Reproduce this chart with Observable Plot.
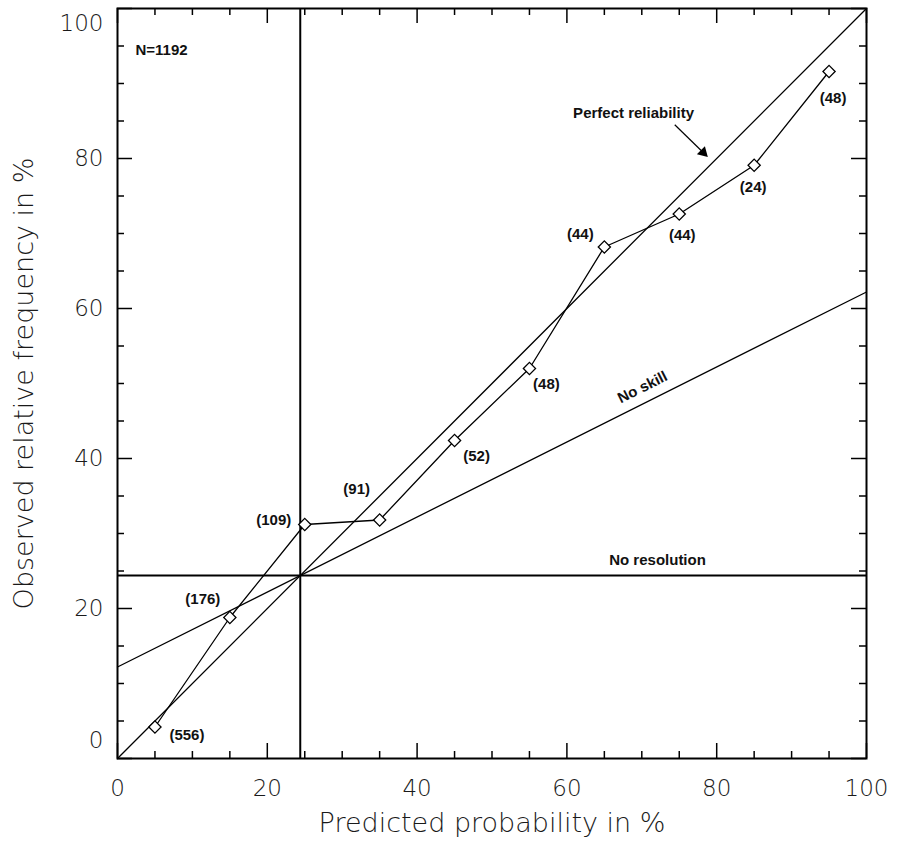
<!DOCTYPE html>
<html>
<head>
<meta charset="utf-8">
<script src="https://cdn.jsdelivr.net/npm/d3@7"></script>
<script src="https://cdn.jsdelivr.net/npm/@observablehq/plot@0.6"></script>
<style>
  html, body { margin: 0; padding: 0; background: #fff; }
</style>
</head>
<body>
<div id="chart"></div>
<script>
// ---- data ----
const forecastProb = [5, 15, 25, 35, 45, 55, 65, 75, 85, 95];
const observedFreq = [4.2, 18.8, 31.2, 31.8, 42.4, 52.0, 68.2, 72.6, 79.1, 91.6];
const binCounts = [556, 176, 109, 91, 52, 48, 44, 44, 24, 48];
const climatology = 24.4;
const totalN = 1192;
const majorTicks = [0, 20, 40, 60, 80, 100];
const minorTicks = [5, 10, 15, 25, 30, 35, 45, 50, 55, 65, 70, 75, 85, 90, 95];
const xAxisLabel = "Predicted probability in %";
const yAxisLabel = "Observed relative frequency in %";

// ---- label placement (pixel offsets, style) ----
const labelDx = [32, -27, -31, -23, 22, 17, -24, 3, -1, 4];
const labelDy = [8, -18, -4, -31, 16, 16, -13, 21, 22, 27];

const points = forecastProb.map((x, i) => ({
  x, y: observedFreq[i], n: binCounts[i], dx: labelDx[i], dy: labelDy[i]
}));

const W = 897, H = 841;
const mL = 117, mR = 31, mT = 8, mB = 83;
const pW = W - mL - mR, pH = H - mT - mB;

const tickFont = "DejaVu Sans, sans-serif";
const annFont = "Liberation Sans, Arial, sans-serif";
const axisStyle = {tickSize: 0, fontSize: 23, fontFamily: tickFont, fontWeight: 300, fill: "#1a1a1a", label: null};
const titleStyle = {fontSize: 27, fontFamily: tickFont, fontWeight: 300, fill: "#1a1a1a", textAnchor: "middle", lineAnchor: "middle"};

const refX = [0, 100];

const chart = Plot.plot({
  width: W, height: H,
  marginLeft: mL, marginRight: mR, marginTop: mT, marginBottom: mB,
  x: {domain: [0, 100]},
  y: {domain: [0, 100]},
  style: {background: "#fff", overflow: "visible"},
  marks: [
    // inward ticks, all four sides
    Plot.tickX(minorTicks, {x: d => d, insetTop: pH - 7, stroke: "#000", strokeWidth: 1.5}),
    Plot.tickX(majorTicks, {x: d => d, insetTop: pH - 15, stroke: "#000", strokeWidth: 1.5}),
    Plot.tickX(minorTicks, {x: d => d, insetBottom: pH - 7, stroke: "#000", strokeWidth: 1.5}),
    Plot.tickX(majorTicks, {x: d => d, insetBottom: pH - 15, stroke: "#000", strokeWidth: 1.5}),
    Plot.tickY(minorTicks, {y: d => d, insetRight: pW - 7, stroke: "#000", strokeWidth: 1.5}),
    Plot.tickY(majorTicks, {y: d => d, insetRight: pW - 15, stroke: "#000", strokeWidth: 1.5}),
    Plot.tickY(minorTicks, {y: d => d, insetLeft: pW - 7, stroke: "#000", strokeWidth: 1.5}),
    Plot.tickY(majorTicks, {y: d => d, insetLeft: pW - 15, stroke: "#000", strokeWidth: 1.5}),

    // axes tick labels
    Plot.axisX(majorTicks, {...axisStyle, tickPadding: 21}),
    Plot.axisY(majorTicks.filter(d => d > 0 && d < 100), {...axisStyle, tickPadding: 14}),
    Plot.axisY([0], {...axisStyle, tickPadding: 14, dy: -18}),
    Plot.axisY([100], {...axisStyle, tickPadding: 14, dy: 15}),

    // axis titles
    Plot.text([xAxisLabel], {...titleStyle, frameAnchor: "bottom", dy: 65, text: d => d}),
    Plot.text([yAxisLabel], {...titleStyle, frameAnchor: "left", dx: -93, rotate: -90, text: d => d}),

    // reference lines
    Plot.ruleY([climatology], {stroke: "#000", strokeWidth: 2}),
    Plot.ruleX([climatology], {stroke: "#000", strokeWidth: 2}),
    Plot.line(refX, {x: d => d, y: d => d, stroke: "#000", strokeWidth: 1.3}),
    Plot.line(refX, {x: d => d, y: d => climatology + 0.5 * (d - climatology), stroke: "#000", strokeWidth: 1.3}),

    // reliability curve
    Plot.line(points, {x: "x", y: "y", stroke: "#000", strokeWidth: 1.3}),
    Plot.dot(points, {x: "x", y: "y", symbol: "diamond2", r: 5.5, stroke: "#000", strokeWidth: 1.3, fill: "#fff"}),
    Plot.text(points, {x: "x", y: "y", text: d => `(${d.n})`, fontSize: 15, fontWeight: "bold", fontFamily: annFont, fill: "#111",
      render: (index, scales, values, dims, ctx, next) => {
        const g = next(index, scales, values, dims, ctx);
        d3.select(g).selectAll("text").each(function(_, j) {
          const p = points[index[j]];
          const t = d3.select(this);
          const tr = t.attr("transform") || "";
          t.attr("transform", tr + ` translate(${p.dx},${p.dy})`);
        });
        return g;
      }}),

    // annotations
    Plot.text([`N=${totalN}`], {x: 2.4, y: 94.4, text: d => d, textAnchor: "start", fontSize: 15, fontWeight: "bold", fontFamily: annFont, fill: "#111"}),
    Plot.text(["Perfect reliability"], {x: 68.9, y: 86.0, text: d => d, fontSize: 15, fontWeight: "bold", fontFamily: annFont, fill: "#111"}),
    Plot.link([{x1: 74.4, y1: 84.5, x2: 78.2, y2: 80.8}], {x1: "x1", y1: "y1", x2: "x2", y2: "y2", stroke: "#000", strokeWidth: 1.2}),
    Plot.dot([{x: 78.6, y: 80.4}], {x: "x", y: "y", symbol: "triangle", r: 4.2, rotate: 135, dx: -3, dy: -3, fill: "#000", stroke: "none"}),
    Plot.text(["No skill"], {x: 70.1, y: 49.5, text: d => d, rotate: -26.6, fontSize: 15, fontWeight: "bold", fontFamily: annFont, fill: "#111"}),
    Plot.text(["No resolution"], {x: 72.1, y: 26.5, text: d => d, fontSize: 15, fontWeight: "bold", fontFamily: annFont, fill: "#111"}),

    Plot.frame({stroke: "#000", strokeWidth: 2})
  ]
});
document.getElementById("chart").appendChild(chart);
</script>
</body>
</html>
